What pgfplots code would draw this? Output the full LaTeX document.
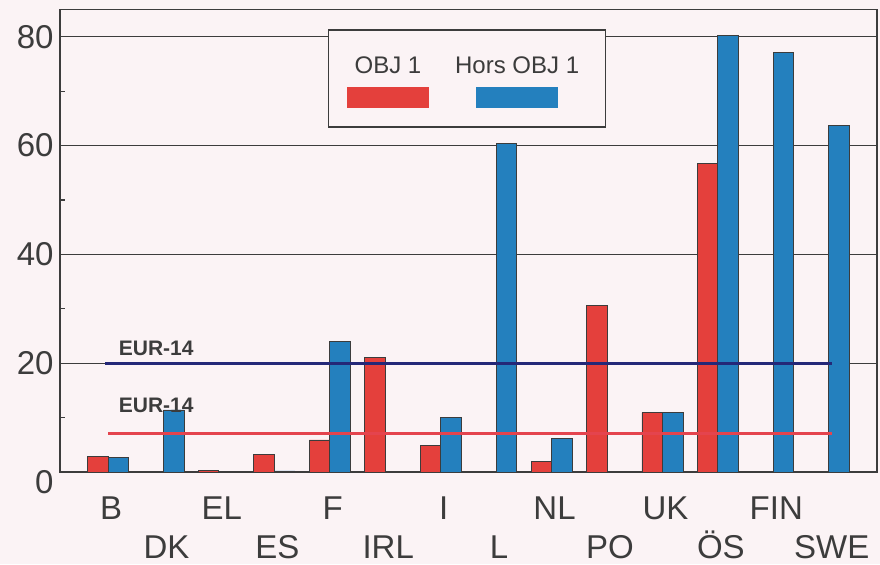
\documentclass[border=0pt]{standalone}
\usepackage{fontspec}
\setmainfont{Liberation Sans}
\usepackage{pgfplots}
\pgfplotsset{compat=1.18}

\definecolor{paper}{RGB}{251,243,245}
\definecolor{barred}{RGB}{228,64,60}
\definecolor{barblue}{RGB}{36,128,190}
\definecolor{lineblue}{RGB}{36,40,120}
\definecolor{linered}{RGB}{228,68,78}
\definecolor{ink}{RGB}{60,60,60}

% share of population, 0..13 = B DK EL ES F IRL I L NL PO UK OS FIN SWE
\pgfplotstableread{
x   y
0   2.9
2   0.3
3   3.3
4   5.9
5   21.1
6   4.8
8   2.0
9   30.6
10  10.9
11  56.7
}\objun
\pgfplotstableread{
x   y
0   2.7
1   11.4
3   0.2
4   24.0
6   10.1
7   60.4
8   6.2
10  10.9
11  80.2
12  77.1
13  63.7
}\horsobj

\begin{document}
\begin{tikzpicture}
\fill[paper] (-30pt,-46pt) rectangle (410pt,236pt);
\begin{axis}[
    scale only axis,
    width=408.5pt, height=231.25pt,
    xmin=-0.866, xmax=13.87,
    ymin=0, ymax=85,
    axis line style={ink, line width=0.6pt},
    ytick={20,40,60,80},
    minor ytick={10,30,50,70},
    extra y ticks={0},
    extra y tick style={yticklabel style={yshift=-5pt}},
    ymajorgrids,
    major grid style={ink, line width=0.6pt},
    ytick pos=left,
    tick align=inside,
    major tick length=0pt,
    minor tick length=2.5pt,
    minor tick style={ink, line width=0.6pt},
    xtick={0,2,4,6,8,10,12},
    xticklabels={B,EL,F,I,NL,UK,FIN},
    extra x ticks={1,3,5,7,9,11,13},
    extra x tick labels={DK,ES,IRL,L,PO,ÖS,SWE},
    extra x tick style={xticklabel style={yshift=-19.5pt}},
    xticklabel style={anchor=base, yshift=-23.5pt, xshift=1.5pt, inner sep=0pt},
    yticklabel style={anchor=east, inner sep=0pt, xshift=-3pt},
    tick label style={font=\fontsize{16.5}{19}\selectfont, text=ink},
    /pgf/number format/assume math mode=true,
  ]
  \addplot[ybar, bar width=0.37, bar shift=-0.185, fill=barred, draw=ink, line width=0.4pt]
    table {\objun};
  \addplot[ybar, bar width=0.37, bar shift=0.185, fill=barblue, draw=ink, line width=0.4pt]
    table {\horsobj};
  % EUR-14 averages
  \addplot[lineblue, line width=1.5pt, mark=none] coordinates {(-0.05,19.9) (13.05,19.9)};
  \addplot[linered, line width=1.4pt, mark=none] coordinates {(0,7.1) (13.05,7.1)};
  \node[font=\bfseries\fontsize{10.5}{12}\selectfont, text=ink] at (axis cs:0.87,22.7) {EUR-14};
  \node[font=\bfseries\fontsize{10.5}{12}\selectfont, text=ink] at (axis cs:0.87,12.2) {EUR-14};
  % legend
  \draw[ink, line width=0.6pt, fill=paper] (axis cs:3.97,63.4) rectangle (axis cs:8.98,81.25);
  \fill[barred] (axis cs:4.31,66.9) rectangle (axis cs:5.79,70.8);
  \fill[barblue] (axis cs:6.64,66.9) rectangle (axis cs:8.12,70.8);
  \node[anchor=base, inner sep=0pt, font=\fontsize{12}{14}\selectfont, text=ink] at (axis cs:5.05,73.2) {OBJ 1};
  \node[anchor=base, inner sep=0pt, font=\fontsize{12}{14}\selectfont, text=ink] at (axis cs:7.38,73.2) {Hors OBJ 1};
\end{axis}
\pgfresetboundingbox
\path (-30pt,-46pt) rectangle (410pt,236pt);
\end{tikzpicture}
\end{document}
